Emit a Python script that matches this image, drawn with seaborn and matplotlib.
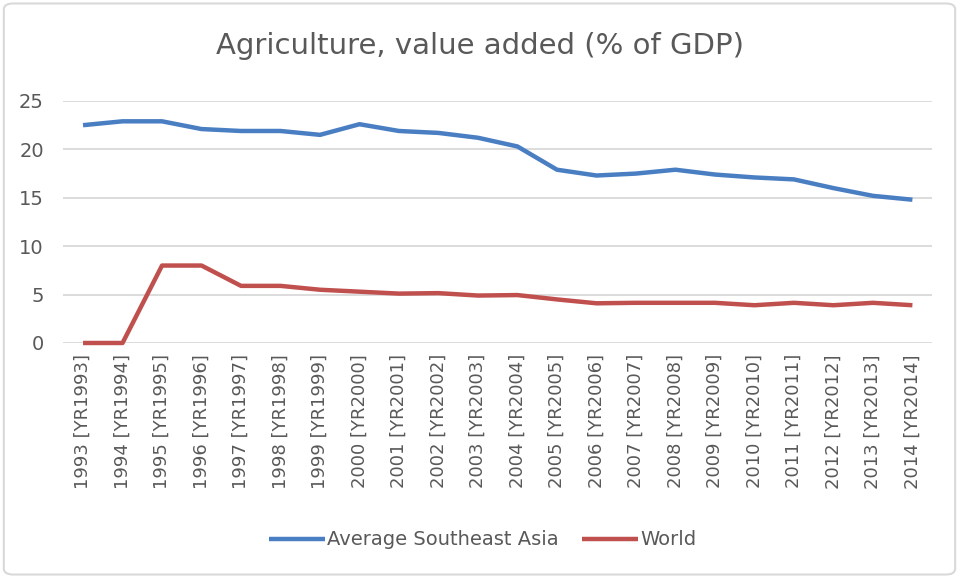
import numpy as np
import pandas as pd
import seaborn as sns
import matplotlib
matplotlib.use("Agg")
import matplotlib.pyplot as plt
from matplotlib.patches import FancyBboxPatch

years = list(range(1993, 2015))
categories = [f"{y} [YR{y}]" for y in years]
sea_values = [22.5, 22.9, 22.9, 22.1, 21.9, 21.9, 21.5, 22.6, 21.9, 21.7, 21.2,
              20.3, 17.9, 17.3, 17.5, 17.9, 17.4, 17.1, 16.9, 16.0, 15.2, 14.8]
world_values = [0.0, 0.0, 8.0, 8.0, 5.9, 5.9, 5.5, 5.3, 5.1, 5.15, 4.9,
                4.95, 4.5, 4.1, 4.15, 4.15, 4.15, 3.9, 4.15, 3.9, 4.15, 3.9]
series_names = ["Average Southeast Asia", "World"]
yticks = [0, 5, 10, 15, 20, 25]

df = pd.DataFrame({
    "year": categories * 2,
    "value": sea_values + world_values,
    "series": [series_names[0]] * len(categories) + [series_names[1]] * len(categories),
})

sns.set_style("white")
plt.rcParams["font.family"] = ["DejaVu Sans"]

fig = plt.figure(figsize=(9.59, 5.78), dpi=100)
ax = fig.add_axes([0.066, 0.4066, 0.906, 0.4187])

palette = {series_names[0]: "#4A7EC2", series_names[1]: "#C0504D"}
sns.lineplot(data=df, x="year", y="value", hue="series", palette=palette,
             linewidth=3.2, ax=ax, sort=False, legend=True)

ax.set_ylim(0, 25)
ax.set_xlim(-0.5, len(categories) - 0.5)
ax.set_yticks(yticks)
ax.set_yticklabels([str(t) for t in yticks], fontsize=14, color="#595959")
ax.set_xticks(range(len(categories)))
ax.set_xticklabels(categories, rotation=90, fontsize=13, color="#595959")
ax.yaxis.grid(True, color="#D9D9D9", linewidth=1.3)
ax.set_axisbelow(True)
for s in ax.spines.values():
    s.set_visible(False)
ax.tick_params(axis="y", length=0, pad=14)
ax.tick_params(axis="x", length=0, pad=8)
ax.set_xlabel("")
ax.set_ylabel("")
for line in ax.lines:
    line.set_clip_on(False)
    line.set_solid_capstyle("butt")

fig.text(0.50, 0.92, "Agriculture, value added (% of GDP)", ha="center", va="center",
         fontsize=21, color="#595959")

handles, labels = ax.get_legend_handles_labels()
ax.legend(handles, labels, loc="center", bbox_to_anchor=(0.503, 0.066),
          bbox_transform=fig.transFigure, ncol=2, frameon=False, fontsize=14,
          handlelength=2.9, handletextpad=0.1, columnspacing=1.2,
          labelcolor="#595959")

border = FancyBboxPatch((0.004, 0.006), 0.992, 0.988, boxstyle="round,pad=0,rounding_size=0.01",
                        transform=fig.transFigure, fill=False, edgecolor="#D9D9D9", linewidth=1.5)
fig.patches.append(border)

fig.savefig("out.png", dpi=100)
